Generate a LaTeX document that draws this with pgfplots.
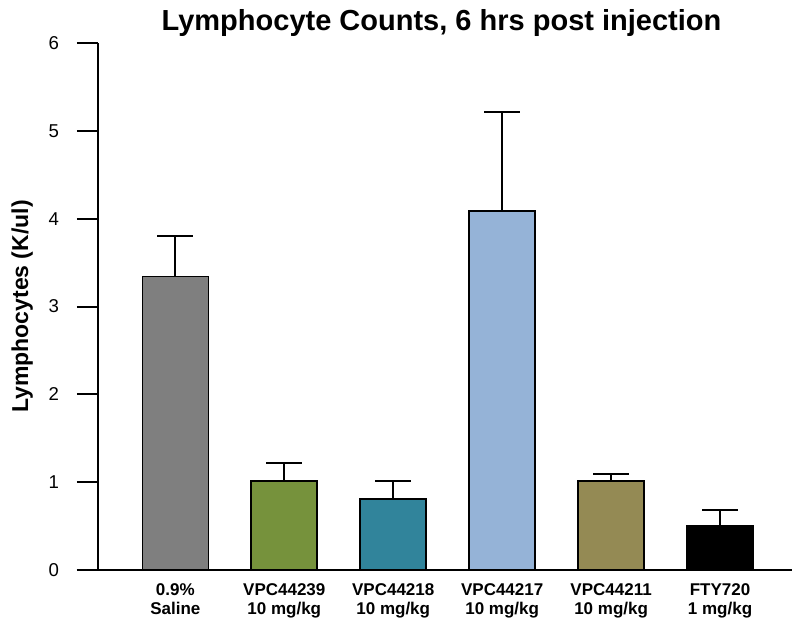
\documentclass[border=0pt]{standalone}
\usepackage{pgfplots}
\pgfplotsset{compat=1.18}
\usepackage{fontspec}
\setmainfont{Liberation Sans}
\definecolor{cgray}{HTML}{7F7F7F}
\definecolor{cgreen}{HTML}{76923C}
\definecolor{cteal}{HTML}{31849B}
\definecolor{cblue}{HTML}{95B3D7}
\definecolor{colive}{HTML}{948A54}
\begin{document}
\begin{tikzpicture}
\begin{axis}[
  at={(0,0)}, anchor=south west,
  scale only axis, width=347pt, height=263.5pt,
  xmin=-0.71, xmax=5.66, ymin=0, ymax=6,
  axis lines*=left,
  axis line style={-, line width=1pt, black},
  x axis line style={shorten <=-10.5pt},
  xtick={0,1,2,3,4,5},
  xticklabels={0.9\%\\Saline, VPC44239\\10 mg/kg, VPC44218\\10 mg/kg, VPC44217\\10 mg/kg, VPC44211\\10 mg/kg, FTY720\\1 mg/kg},
  xticklabel style={align=center, font=\bfseries\fontsize{8.5}{9.5}\selectfont, yshift=7pt},
  x tick style={draw=none},
  ytick={0,1,2,3,4,5,6},
  tick align=outside,
  major tick length=10.5pt,
  y tick style={line width=1pt, black},
  yticklabel style={font=\fontsize{9.3}{11}\selectfont, /pgf/number format/assume math mode=true, xshift=-5.5pt},
  ylabel={\bfseries Lymphocytes (K/ul)},
  ylabel style={font=\fontsize{11.5}{13}\selectfont},
  ylabel shift=1pt,
  title={\bfseries Lymphocyte Counts, 6 hrs post injection},
  title style={font=\fontsize{14.5}{16}\selectfont, at={(0.495,1)}, anchor=base, yshift=0.5pt},
  ybar, bar width=33pt, bar shift=0pt,
  every axis plot/.append style={draw=black, line width=0.8pt,
    error bars/y dir=plus, error bars/y explicit,
    error bars/error bar style={line width=1pt, black},
    error bars/error mark options={rotate=90, mark size=9pt, line width=1pt, black}},
  clip=false,
]
\addplot[fill=cgray] coordinates {(0,3.34) +- (0,0.46)};
\addplot[fill=cgreen] coordinates {(1,1.01) +- (0,0.21)};
\addplot[fill=cteal] coordinates {(2,0.81) +- (0,0.20)};
\addplot[fill=cblue] coordinates {(3,4.09) +- (0,1.12)};
\addplot[fill=colive] coordinates {(4,1.01) +- (0,0.08)};
\addplot[fill=black] coordinates {(5,0.50) +- (0,0.18)};
\end{axis}
\pgfresetboundingbox
\path[use as bounding box] (-49pt,-29.5pt) rectangle (351pt,285pt);
\end{tikzpicture}
\end{document}
